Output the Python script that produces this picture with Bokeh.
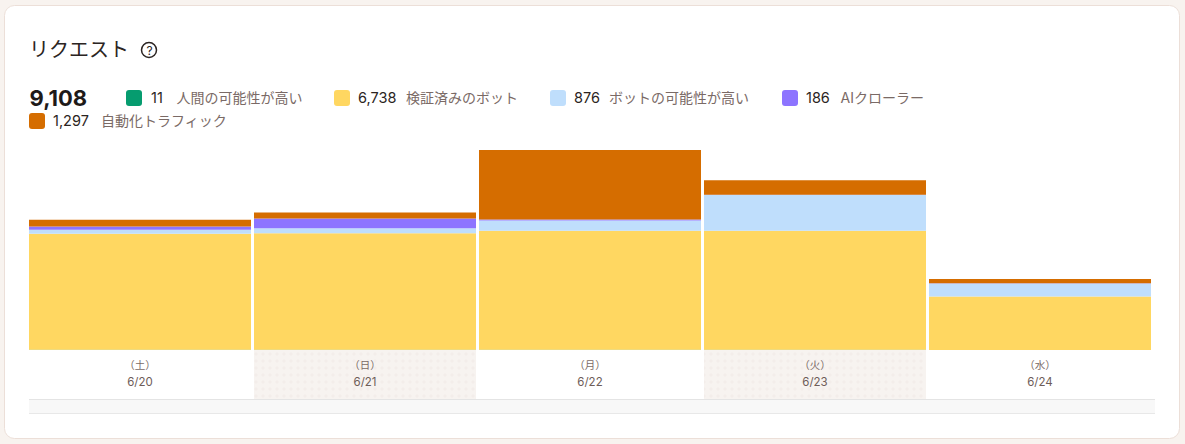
from bokeh.embed import file_html
from bokeh.resources import INLINE
from bokeh.plotting import figure
from bokeh.models import BoxAnnotation, ColumnDataSource, Label, Range1d
from bokeh.core.properties import value

# ---- data ----
days = ["（土）", "（日）", "（月）", "（火）", "（水）"]
dates = ["6/20", "6/21", "6/22", "6/23", "6/24"]
human = [3, 2, 3, 2, 1]
verified = [1492, 1498, 1530, 1530, 688]
likely_bot = [51, 67, 132, 461, 165]
ai_crawler = [42, 123, 14, 4, 3]
automated = [86, 77, 893, 185, 56]
series_keys = ["human", "verified", "likely_bot", "ai_crawler", "automated"]
series_colors = ["#069C6F", "#FFD761", "#BFDEFC", "#8D74FF", "#D56D00"]
legend_values = ["11", "6,738", "876", "186", "1,297"]
legend_names = ["人間の可能性が高い", "検証済みのボット", "ボットの可能性が高い", "AIクローラー", "自動化トラフィック"]
total_label = "9,108"
title = "リクエスト"

# ---- layout ----
W, H = 1185, 444
OFF = 0.5             # half-pixel correction of the page's drawing position
BASE_Y = 350 - OFF    # pixel row of value 0
PER_PX = 12.86        # requests per pixel
PITCH = 225           # pixels per day
FIRST_C = 140 - OFF   # pixel column of the first day's centre
FONT = "Inter, 'Noto Sans CJK JP'"

p = figure(width=W, height=H, output_backend="svg", toolbar_location=None,
           x_axis_location=None, y_axis_location=None, min_border=0,
           x_range=Range1d(-FIRST_C / PITCH, (W - FIRST_C) / PITCH),
           y_range=Range1d((BASE_Y - H) * PER_PX, BASE_Y * PER_PX))
p.grid.visible = False
p.outline_line_color = None
p.background_fill_color = "#F8F3EF"
p.border_fill_color = "#F8F3EF"


def screen_box(l, r, t, b, **kw):
    box = BoxAnnotation(left=l - OFF, right=r - OFF, top=H - t + OFF, bottom=H - b + OFF,
                        left_units="screen", right_units="screen",
                        top_units="screen", bottom_units="screen",
                        level="underlay", line_alpha=1, **kw)
    p.add_layout(box)


def screen_text(x, y, text, size, color, style="normal", align="left"):
    p.add_layout(Label(x=x - 1, y=H - y + 1, x_units="screen", y_units="screen", text=text,
                       text_font=FONT, text_font_size=size, text_color=color,
                       text_font_style=style, text_baseline="middle", text_align=align))


# card
screen_box(4.5, 1179.5, 5.5, 438.5, fill_color="#FFFFFF", fill_alpha=1,
           line_color="#ECDFD8", line_width=1, border_radius=10)

# strip under the chart: fill, then top and bottom rules only
screen_box(29, 1155, 400, 413, fill_color="#F8F8F8", fill_alpha=1, line_color=None)
screen_box(29, 1155, 399, 400, fill_color="#E4E4E4", fill_alpha=1, line_color=None)
screen_box(29, 1155, 413, 414, fill_color="#E8E8E8", fill_alpha=1, line_color=None)

# weekend-style alternating bands
idx = list(range(len(days)))
band_h = 49 * PER_PX
p.vbar(x=idx[1::2], top=0, bottom=-band_h, width=222 / PITCH, fill_color="#F7F3F0",
       line_color=None, hatch_pattern="dot", hatch_color="#EFE8E4", hatch_alpha=0.5,
       hatch_scale=7, hatch_weight=0.3)

# stacked bars
src = ColumnDataSource(dict(x=idx, human=human, verified=verified, likely_bot=likely_bot,
                            ai_crawler=ai_crawler, automated=automated))
p.vbar_stack(series_keys, x="x", width=222 / PITCH, source=src, color=series_colors,
             line_color=None)

# category labels, placed from the bar's base
p.text(x=idx, y=[0] * 5, text=days, y_offset=15, text_align="center", text_baseline="middle",
       text_font=value(FONT), text_font_size="10.5px", text_color="#7A6A66")
p.text(x=idx, y=[0] * 5, text=dates, y_offset=32, text_align="center", text_baseline="middle",
       text_font=value(FONT), text_font_size="11.5px", text_color="#6E5D58")

# title and help icon
screen_text(29.5, 50, title, "20px", "#2B2422")
screen_box(141.5, 156.5, 42.5, 57.5, fill_color="#FFFFFF", fill_alpha=1,
           line_color="#2B2422", line_width=1.5, border_radius=8)
screen_text(150, 50.5, "?", "12px", "#2B2422", align="center")

# legend
screen_text(30, 98, total_label, "22px", "#1E1A19", style="bold")
swatch_x = [126, 334, 550, 782, 29]
swatch_y = [90, 90, 90, 90, 113]
num_x = [151.5, 358.5, 574.5, 806.5, 53.5]
name_x = [177, 406.5, 609.5, 841, 101.5]
for i, c in enumerate(series_colors):
    screen_box(swatch_x[i], swatch_x[i] + 16, swatch_y[i], swatch_y[i] + 16,
               fill_color=c, fill_alpha=1, line_color=None, border_radius=3)
    screen_text(num_x[i], swatch_y[i] + 7.5, legend_values[i], "14.5px", "#2B2422")
    screen_text(name_x[i], swatch_y[i] + 7.5, legend_names[i], "14px", "#7A6A66")

html = file_html(p, INLINE)
html = html.replace("<head>", "<head><style>html,body{margin:0;overflow:hidden;background:#F8F3EF}</style>", 1)
open("out.html", "w").write(html)
